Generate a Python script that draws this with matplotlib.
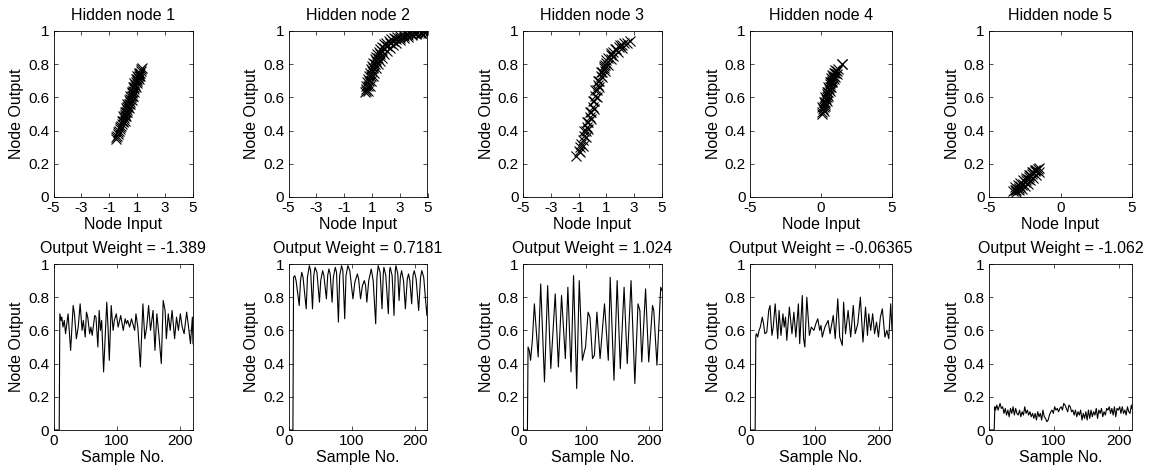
import numpy as np
import matplotlib
matplotlib.use("Agg")
import matplotlib.pyplot as plt

plt.rcParams['font.family'] = ['Liberation Sans', 'DejaVu Sans']
plt.rcParams['axes.unicode_minus'] = False

# titles
top_titles = ["Hidden node 1", "Hidden node 2", "Hidden node 3", "Hidden node 4", "Hidden node 5"]
weights = ["-1.389", "0.7181", "1.024", "-0.06365", "-1.062"]

n1_in = [-0.55, -0.5, -0.45, -0.4, -0.35, -0.3, -0.25, -0.2, -0.15, -0.1, -0.05, 0.0, 0.05, 0.1, 0.15,
         0.2, 0.25, 0.3, 0.35, 0.4, 0.45, 0.5, 0.55, 0.6, 0.65, 0.7, 0.75, 0.8, 0.85, 0.9, 0.95, 1.0, 1.05,
         1.1, 1.15, 1.2, 1.25, 1.3, 1.35,
         0.1, 0.2, 0.3, 0.4, 0.5, 0.6, 0.7, 0.8, 0.9, 1.0, 1.1, 1.2,
         -0.1, 0.0, 0.1, 0.2, 0.3, 0.4, 0.5, 0.6, 0.7, 0.8, 0.9, 1.0, 1.1]
n1_out = [0.35, 0.36, 0.37, 0.38, 0.39, 0.40, 0.41, 0.42, 0.43, 0.44, 0.45, 0.46, 0.475, 0.49, 0.50,
          0.51, 0.525, 0.54, 0.55, 0.56, 0.575, 0.59, 0.60, 0.61, 0.625, 0.64, 0.65, 0.66, 0.675, 0.69, 0.70,
          0.71, 0.72, 0.73, 0.74, 0.75, 0.76, 0.77, 0.78,
          0.46, 0.485, 0.51, 0.535, 0.56, 0.585, 0.61, 0.635, 0.66, 0.685, 0.71, 0.73,
          0.46, 0.485, 0.51, 0.535, 0.56, 0.585, 0.61, 0.635, 0.66, 0.685, 0.71, 0.73, 0.75]

n2_in = [0.5, 0.55, 0.6, 0.65, 0.7, 0.78, 0.85, 0.92, 1.0, 1.1, 1.2, 1.3, 1.4, 1.5, 1.6, 1.75, 1.9, 2.05,
         2.2, 2.4, 2.6, 2.8, 3.0, 3.25, 3.5, 3.75, 4.0, 4.25, 4.5, 4.75, 4.9,
         0.6, 0.7, 0.8, 0.9, 1.0, 1.1, 1.2, 1.3, 1.45, 1.6, 1.75, 1.9, 2.1, 2.3, 2.5, 2.75, 3.0, 3.3, 3.6,
         3.9, 4.2, 4.5, 4.8,
         0.75, 0.85, 0.95, 1.05, 1.15, 1.3, 1.45, 1.6, 1.75, 1.9, 2.1, 2.3, 2.5, 2.75, 3.0, 3.3, 3.6, 3.9,
         4.2, 4.5, 4.8, 5.0]
n2_out = [0.63, 0.65, 0.67, 0.69, 0.71, 0.73, 0.75, 0.77, 0.79, 0.81, 0.83, 0.845, 0.86, 0.875, 0.89, 0.905,
          0.92, 0.93, 0.94, 0.95, 0.96, 0.965, 0.97, 0.975, 0.98, 0.985, 0.99, 0.992, 0.995, 0.997, 1.0,
          0.64, 0.67, 0.70, 0.73, 0.76, 0.78, 0.80, 0.82, 0.84, 0.86, 0.88, 0.895, 0.91, 0.925, 0.94, 0.95,
          0.96, 0.97, 0.975, 0.98, 0.985, 0.99, 0.993,
          0.64, 0.67, 0.70, 0.73, 0.75, 0.78, 0.80, 0.82, 0.84, 0.86, 0.88, 0.90, 0.915, 0.93, 0.945, 0.955,
          0.965, 0.975, 0.98, 0.985, 0.99, 0.99]

n3_in = [-1.2, -1.0, -0.9, -0.8, -0.7, -0.6, -0.5, -0.4, -0.3, -0.2, -0.1, 0.0, 0.1, 0.2, 0.3, 0.4,
         0.5, 0.6, 0.7, 0.8, 0.9, 1.0, 1.15, 1.3, 1.5, 1.7, 1.9, 2.1, 2.3, 2.5, 2.7,
         -0.9, -0.7, -0.5, -0.3, -0.1, 0.1, 0.3, 0.5, 0.7, 0.9, 1.1, 1.3, 1.5, 1.8, 2.1,
         -0.6, -0.4, -0.2, 0.0, 0.2, 0.4, 0.6, 0.8, 1.0, 1.3, 1.6, 2.0]
n3_out = [0.25, 0.28, 0.30, 0.32, 0.345, 0.37, 0.395, 0.42, 0.45, 0.48, 0.51, 0.545, 0.58, 0.61, 0.645, 0.675,
          0.70, 0.73, 0.755, 0.775, 0.795, 0.81, 0.835, 0.855, 0.875, 0.89, 0.905, 0.915, 0.925, 0.93, 0.94,
          0.27, 0.31, 0.36, 0.41, 0.47, 0.53, 0.60, 0.66, 0.72, 0.76, 0.795, 0.83, 0.85, 0.875, 0.895,
          0.40, 0.45, 0.51, 0.58, 0.645, 0.70, 0.755, 0.79, 0.825, 0.865, 0.89, 0.915]

n4_in = [0.05, 0.1, 0.15, 0.2, 0.25, 0.3, 0.35, 0.4, 0.45, 0.5, 0.55, 0.6, 0.65, 0.7, 0.75, 0.8, 0.85,
         0.9, 1.0, 1.1, 1.2, 1.45, 1.47,
         0.2, 0.3, 0.4, 0.5, 0.6, 0.7, 0.8, 0.9, 1.0, 1.1,
         0.1, 0.2, 0.3, 0.4, 0.5, 0.6, 0.7, 0.8, 0.9, 1.0]
n4_out = [0.50, 0.515, 0.53, 0.545, 0.56, 0.575, 0.59, 0.605, 0.62, 0.635, 0.65, 0.665, 0.68, 0.69, 0.70,
          0.71, 0.72, 0.73, 0.745, 0.76, 0.77, 0.80, 0.80,
          0.52, 0.55, 0.58, 0.61, 0.64, 0.665, 0.69, 0.71, 0.725, 0.74,
          0.54, 0.57, 0.60, 0.63, 0.66, 0.69, 0.715, 0.735, 0.75, 0.765]

n5_in = [-3.3, -3.2, -3.1, -3.0, -2.9, -2.8, -2.7, -2.6, -2.5, -2.4, -2.3, -2.2, -2.1, -2.0, -1.9, -1.8,
         -1.7, -1.6, -1.5,
         -3.2, -3.0, -2.8, -2.6, -2.4, -2.2, -2.0, -1.8,
         -3.1, -2.9, -2.7, -2.5, -2.3, -2.1, -1.9, -1.7, -1.5]
n5_out = [0.035, 0.04, 0.045, 0.05, 0.055, 0.065, 0.07, 0.08, 0.09, 0.10, 0.11, 0.12, 0.13, 0.14, 0.15, 0.155,
          0.165, 0.17, 0.175,
          0.06, 0.07, 0.085, 0.10, 0.115, 0.13, 0.15, 0.165,
          0.03, 0.04, 0.05, 0.065, 0.08, 0.10, 0.115, 0.13, 0.15]

# node output over samples (turning points)
s1 = [1, 9, 10, 12, 13, 15, 17, 19, 21, 23, 27, 31, 33, 36, 39, 42, 45, 47, 50, 52, 54, 57, 59, 61, 65, 67,
      70, 72, 74, 76, 79, 84, 86, 88, 91, 94, 96, 99, 102, 106, 110, 113, 115, 117, 120, 123, 128, 130, 133,
      137, 141, 144, 147, 150, 153, 157, 160, 163, 166, 170, 173, 176, 178, 181, 184, 187, 191, 194, 197,
      200, 203, 206, 210, 213, 216, 219, 220]
v1 = [0.0, 0.0, 0.70, 0.66, 0.68, 0.62, 0.66, 0.58, 0.64, 0.70, 0.48, 0.75, 0.70, 0.55, 0.62, 0.76, 0.60,
      0.66, 0.56, 0.71, 0.68, 0.58, 0.62, 0.57, 0.69, 0.68, 0.50, 0.72, 0.60, 0.66, 0.35, 0.77, 0.62, 0.42,
      0.75, 0.60, 0.66, 0.70, 0.62, 0.69, 0.60, 0.67, 0.64, 0.66, 0.62, 0.67, 0.60, 0.70, 0.62, 0.38, 0.76,
      0.55, 0.62, 0.75, 0.60, 0.72, 0.48, 0.70, 0.58, 0.40, 0.78, 0.72, 0.55, 0.70, 0.60, 0.72, 0.55, 0.68,
      0.60, 0.70, 0.62, 0.58, 0.71, 0.62, 0.52, 0.68, 0.52]

s2 = [1, 7, 8, 10, 12, 17, 19, 21, 23, 28, 30, 33, 35, 38, 40, 42, 45, 49, 51, 54, 56, 60, 62, 64, 66, 69,
      71, 74, 76, 79, 81, 84, 86, 89, 91, 94, 97, 102, 105, 109, 111, 114, 117, 120, 122, 124, 127, 131, 134,
      138, 140, 142, 145, 148, 150, 151, 154, 158, 160, 161, 164, 167, 169, 170, 173, 175, 177, 179, 182, 185,
      188, 190, 192, 195, 197, 199, 202, 206, 209, 211, 214, 219, 220]
v2 = [0.0, 0.0, 0.92, 0.93, 0.90, 0.75, 0.90, 0.95, 0.92, 0.73, 0.92, 0.99, 0.96, 0.73, 0.93, 0.98, 0.95,
      0.77, 0.90, 0.96, 0.93, 0.79, 0.93, 0.97, 0.94, 0.77, 0.92, 0.98, 0.95, 0.65, 0.93, 0.99, 0.96, 0.67,
      0.93, 0.99, 0.96, 0.79, 0.89, 0.94, 0.91, 0.79, 0.87, 0.90, 0.87, 0.77, 0.90, 0.97, 0.90, 0.64, 0.92,
      0.99, 0.95, 0.73, 0.94, 0.98, 0.93, 0.70, 0.96, 0.98, 0.93, 0.69, 0.96, 0.99, 0.94, 0.78, 0.92, 0.96,
      0.90, 0.73, 0.91, 0.94, 0.90, 0.76, 0.93, 0.96, 0.91, 0.72, 0.92, 0.96, 0.92, 0.69, 0.75]

s3 = [1, 7, 8, 10, 12, 15, 18, 21, 24, 28, 34, 39, 44, 51, 56, 61, 67, 71, 76, 80, 85, 89, 94, 97, 99, 103,
      106, 110, 113, 117, 122, 126, 129, 135, 138, 144, 149, 154, 160, 165, 171, 177, 182, 185, 188, 194, 199,
      205, 207, 212, 218, 220]
v3 = [0.0, 0.0, 0.50, 0.48, 0.42, 0.55, 0.76, 0.60, 0.44, 0.88, 0.29, 0.87, 0.37, 0.82, 0.38, 0.81, 0.43,
      0.86, 0.35, 0.93, 0.25, 0.90, 0.42, 0.47, 0.50, 0.71, 0.68, 0.43, 0.45, 0.71, 0.43, 0.62, 0.76, 0.42,
      0.92, 0.30, 0.90, 0.37, 0.86, 0.40, 0.90, 0.28, 0.76, 0.72, 0.41, 0.85, 0.41, 0.75, 0.72, 0.39, 0.86, 0.84]

s4 = [1, 8, 9, 10, 12, 14, 16, 19, 21, 23, 26, 29, 31, 34, 36, 39, 43, 45, 48, 51, 53, 55, 57, 61, 65, 68,
      71, 75, 77, 81, 83, 85, 88, 92, 95, 99, 102, 105, 108, 110, 112, 116, 121, 124, 129, 132, 136, 139, 143,
      145, 148, 152, 156, 160, 163, 167, 171, 175, 179, 182, 184, 187, 190, 193, 196, 199, 202, 205, 209, 212,
      215, 218, 220]
v4 = [0.0, 0.0, 0.57, 0.58, 0.56, 0.60, 0.62, 0.68, 0.64, 0.58, 0.59, 0.72, 0.75, 0.57, 0.62, 0.76, 0.55,
      0.72, 0.57, 0.70, 0.62, 0.68, 0.54, 0.74, 0.58, 0.71, 0.56, 0.76, 0.52, 0.81, 0.55, 0.50, 0.80, 0.57,
      0.62, 0.60, 0.64, 0.67, 0.60, 0.63, 0.56, 0.62, 0.66, 0.58, 0.69, 0.55, 0.79, 0.56, 0.51, 0.77, 0.58,
      0.72, 0.56, 0.75, 0.58, 0.64, 0.80, 0.53, 0.74, 0.57, 0.70, 0.60, 0.70, 0.58, 0.65, 0.56, 0.68, 0.73,
      0.56, 0.60, 0.55, 0.76, 0.60]

s5 = [1, 8, 9, 10, 12, 14, 17, 19, 21, 23, 25, 27, 29, 31, 33, 35, 37, 39, 41, 43, 45, 47, 49, 51, 53, 55,
      57, 59, 61, 63, 65, 67, 69, 71, 73, 75, 77, 79, 81, 83, 85, 87, 89, 91, 93, 95, 97, 99, 101, 103, 105,
      107, 109, 111, 113, 115, 117, 119, 121, 123, 125, 127, 129, 131, 133, 135, 137, 139, 141, 143, 145, 147,
      149, 151, 153, 155, 157, 159, 161, 163, 165, 167, 169, 171, 173, 175, 177, 179, 181, 183, 185, 187, 189,
      191, 193, 195, 197, 199, 201, 203, 205, 207, 209, 211, 213, 215, 217, 219, 220]
v5 = [0.0, 0.0, 0.14, 0.12, 0.15, 0.12, 0.16, 0.13, 0.14, 0.10, 0.13, 0.09, 0.12, 0.08, 0.13, 0.10, 0.14,
      0.09, 0.13, 0.10, 0.09, 0.12, 0.08, 0.11, 0.09, 0.14, 0.10, 0.12, 0.09, 0.11, 0.08, 0.10, 0.07, 0.10,
      0.06, 0.11, 0.08, 0.10, 0.06, 0.12, 0.08, 0.07, 0.05, 0.06, 0.09, 0.11, 0.12, 0.10, 0.14, 0.12, 0.13,
      0.11, 0.13, 0.14, 0.12, 0.16, 0.15, 0.13, 0.11, 0.15, 0.14, 0.11, 0.12, 0.09, 0.12, 0.08, 0.11, 0.09,
      0.12, 0.06, 0.10, 0.07, 0.11, 0.06, 0.12, 0.07, 0.12, 0.08, 0.11, 0.09, 0.13, 0.07, 0.12, 0.10, 0.13,
      0.08, 0.11, 0.09, 0.13, 0.12, 0.14, 0.10, 0.13, 0.09, 0.14, 0.08, 0.13, 0.12, 0.14, 0.10, 0.14, 0.10,
      0.12, 0.09, 0.14, 0.11, 0.10, 0.15, 0.13]

scatter_in = [n1_in, n2_in, n3_in, n4_in, n5_in]
scatter_out = [n1_out, n2_out, n3_out, n4_out, n5_out]
samples = [s1, s2, s3, s4, s5]
outputs = [v1, v2, v3, v4, v5]
xticks_top = [[-5, -3, -1, 1, 3, 5]] * 3 + [[-5, 0, 5]] * 2

W, H = 1155, 471
lefts = [53.5, 288.5, 523, 750, 989]
rights = [193, 427.5, 662, 892, 1132]

fig = plt.figure(figsize=(W / 100, H / 100), dpi=100)


def style(ax):
    ax.set_ylim(0, 1)
    ax.set_yticks([0, 0.2, 0.4, 0.6, 0.8, 1])
    ax.set_yticklabels(["0", "0.2", "0.4", "0.6", "0.8", "1"])
    ax.tick_params(direction='in', top=True, right=True, length=3, width=0.5,
                   labelsize=11, pad=3)
    for sp in ax.spines.values():
        sp.set_linewidth(0.6)
    ax.set_ylabel("Node Output", fontsize=11.5, labelpad=3)


for i in range(5):
    l, r = lefts[i], rights[i]
    # top row: scatter
    ax = fig.add_axes([l / W, (H - 197) / H, (r - l) / W, 166 / H])
    ax.plot(scatter_in[i], scatter_out[i], 'x', color='k', ms=7, mew=0.8)
    ax.set_xlim(-5, 5)
    ax.set_xticks(xticks_top[i])
    style(ax)
    ax.set_xlabel("Node Input", fontsize=11.5, labelpad=1)
    ax.set_title(top_titles[i], fontsize=11.5, pad=8)

    # bottom row: output vs sample
    ax2 = fig.add_axes([l / W, (H - 430) / H, (r - l) / W, 166 / H])
    ax2.plot(samples[i], outputs[i], color='k', lw=0.8)
    ax2.set_xlim(0, 220)
    ax2.set_xticks([0, 100, 200])
    style(ax2)
    ax2.set_xlabel("Sample No.", fontsize=11.5, labelpad=1)
    ax2.set_title("Output Weight = " + weights[i], fontsize=11.5, pad=8)

fig.savefig("out.png", dpi=100)
